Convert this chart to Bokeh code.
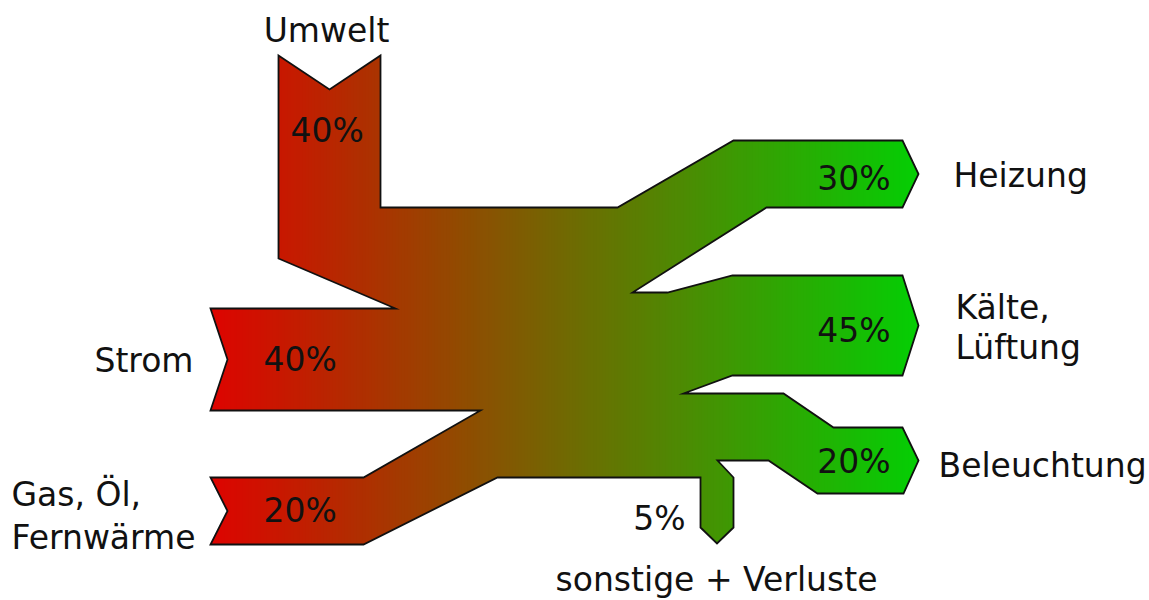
from bokeh.plotting import figure
from bokeh.models import Range1d
from bokeh.embed import file_html
from bokeh.resources import INLINE
from bokeh.core.properties import value

# ---------------- data ----------------
sources = ["Umwelt", "Strom", "Gas, Öl,\nFernwärme"]
source_values = [40, 40, 20]
targets = ["Heizung", "Kälte,\nLüftung", "Beleuchtung", "sonstige + Verluste"]
target_values = [30, 45, 20, 5]

# ---------------- layout (screen pixels) ----------------
W, H = 1149, 600
X0, Y0 = 0, 0
FONT = "DejaVu Sans"
FS = "33px"
TEXT_DY = -10   # renderer baseline correction

# input bands
U_L, U_R, U_TOP, U_NOTCH = 278, 380, 55, 34      # Umwelt (vertical, from top)
IN_X, IN_NOTCH = 210, 17                          # left inputs
STROM = (308, 410)
GAS = (477, 544)
# trunk
TRUNK_TOP, TRUNK_BOT = 207, 477
# outputs
OUT_X, TIP = 902, 16
HEIZ = (140, 207)
KAELTE = (275, 375)
BEL = (427, 493)
SON_X = (700, 733)
SON_END, SON_TIP = 527, 16


def build_outline():
    pts = []
    # Umwelt inlet (notched top)
    pts += [(U_L, U_TOP), ((U_L + U_R) / 2, U_TOP + U_NOTCH), (U_R, U_TOP)]
    pts += [(U_R, TRUNK_TOP), (617, TRUNK_TOP)]
    # Heizung
    pts += [(733, HEIZ[0]), (OUT_X, HEIZ[0]), (OUT_X + TIP, sum(HEIZ) / 2),
            (OUT_X, HEIZ[1]), (766, HEIZ[1]), (632, 292), (667, 292)]
    # Kälte, Lüftung
    pts += [(732, KAELTE[0]), (OUT_X, KAELTE[0]), (OUT_X + TIP, sum(KAELTE) / 2),
            (OUT_X, KAELTE[1]), (732, KAELTE[1]), (683, 393), (783, 393)]
    # Beleuchtung
    pts += [(833, BEL[0]), (OUT_X, BEL[0]), (OUT_X + TIP, sum(BEL) / 2),
            (OUT_X + 1, BEL[1]), (817, BEL[1]), (768, 460), (717, 460)]
    # sonstige + Verluste
    pts += [(SON_X[1], TRUNK_BOT), (SON_X[1], SON_END),
            (sum(SON_X) / 2, SON_END + SON_TIP), (SON_X[0], SON_END),
            (SON_X[0], TRUNK_BOT)]
    # bottom of trunk to Gas
    pts += [(497, TRUNK_BOT), (363, GAS[1]), (IN_X, GAS[1]),
            (IN_X + IN_NOTCH, sum(GAS) / 2), (IN_X, GAS[0]), (363, GAS[0])]
    # Strom
    pts += [(480, STROM[1]), (IN_X, STROM[1]), (IN_X + IN_NOTCH, sum(STROM) / 2),
            (IN_X, STROM[0]), (395, STROM[0]), (U_L, 258)]
    return pts


def clip_half(pts, xc, keep_greater):
    out = []
    n = len(pts)
    for i in range(n):
        a = pts[i]
        b = pts[(i + 1) % n]
        ina = a[0] >= xc if keep_greater else a[0] <= xc
        inb = b[0] >= xc if keep_greater else b[0] <= xc
        if ina:
            out.append(a)
        if ina != inb:
            t = (xc - a[0]) / (b[0] - a[0])
            out.append((xc, a[1] + t * (b[1] - a[1])))
    return out


outline = build_outline()

C0 = (221, 4, 0)
C1 = (4, 206, 4)
GX0, GX1 = 212, 918

xs, ys, cols = [], [], []
step = 3
x = 200
while x < 935:
    poly = clip_half(outline, x, True)
    if poly:
        poly = clip_half(poly, x + step + 0.8, False)
    if len(poly) >= 3:
        t = min(1.0, max(0.0, (x + step / 2 - GX0) / (GX1 - GX0)))
        c = tuple(int(round(C0[k] + t * (C1[k] - C0[k]))) for k in range(3))
        xs.append([p[0] for p in poly])
        ys.append([p[1] for p in poly])
        cols.append("#%02x%02x%02x" % c)
    x += step

p = figure(width=W, height=H, output_backend="svg", toolbar_location=None,
           x_range=Range1d(X0, X0 + W), y_range=Range1d(Y0 + H, Y0),
           min_border=0)
p.axis.visible = False
p.grid.visible = False
p.outline_line_color = None
p.background_fill_color = "white"

p.patches(xs, ys, fill_color=cols, line_color=None)
p.patch([q[0] for q in outline], [q[1] for q in outline],
        fill_alpha=0, line_color="#111111", line_width=1.8, line_join="miter")


def label(x, y, txt, align="left", lh=42):
    lines = txt.split("\n")
    p.text([x] * len(lines), [y + TEXT_DY + i * lh for i in range(len(lines))],
           text=lines, text_font=value(FONT), text_font_size=FS,
           text_color="#111111", text_align=align, text_baseline="alphabetic")


# node names
label(326, 40, sources[0], "center")
label(193, 370, sources[1], "right")
label(11, 504, sources[2], "left", lh=43)
label(953, 185, targets[0])
label(955, 317, targets[1], lh=40)
label(938, 475, targets[2])
label(716, 589, targets[3], "center")

# percentages
label(290, 140, f"{source_values[0]}%")
label(263, 369, f"{source_values[1]}%")
label(263, 520, f"{source_values[2]}%")
label(890, 188, f"{target_values[0]}%", "right")
label(890, 340, f"{target_values[1]}%", "right")
label(890, 471, f"{target_values[2]}%", "right")
label(685, 528, f"{target_values[3]}%", "right")

open("out.html", "w").write(file_html(p, INLINE))
